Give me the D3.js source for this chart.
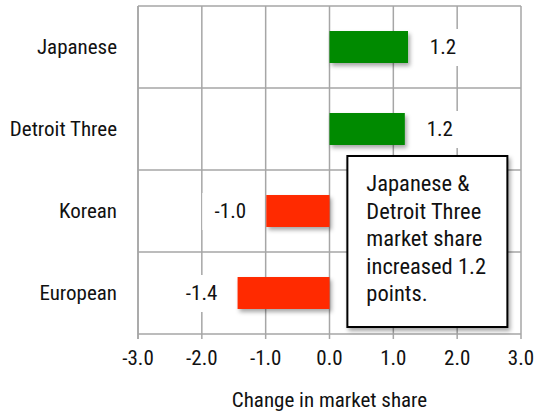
<!DOCTYPE html>
<html>
<head>
<meta charset="UTF-8">
<script src="https://d3js.org/d3.v7.min.js"></script>
<style>
  body { margin: 0; background: #fff; }
  svg { font-family: "Roboto Condensed", "Liberation Sans Narrow", sans-serif; }
  .grid line { stroke: #a6a6a6; stroke-width: 1.5px; }
</style>
</head>
<body>
<svg width="537" height="415"></svg>
<script>
// data
const categories = ["Japanese", "Detroit Three", "Korean", "European"];
const values = [1.23, 1.18, -0.99, -1.44];
const xTicks = [-3, -2, -1, 0, 1, 2, 3];
const noteLines = ["Japanese &", "Detroit Three", "market share", "increased 1.2", "points."];

const svg = d3.select("svg");
const margin = { top: 6, right: 16, bottom: 81, left: 138 };
const width = 537 - margin.left - margin.right;
const height = 415 - margin.top - margin.bottom;

const defs = svg.append("defs");
const f = defs.append("filter").attr("id", "shadow")
  .attr("x", "-20%").attr("y", "-20%").attr("width", "150%").attr("height", "160%");
f.append("feDropShadow").attr("dx", 2).attr("dy", 3).attr("stdDeviation", 2)
  .attr("flood-color", "#000").attr("flood-opacity", 0.35);

const g = svg.append("g").attr("transform", `translate(${margin.left},${margin.top})`);

const x = d3.scaleLinear().domain([-3, 3]).range([0, width]);
const y = d3.scaleBand().domain(categories).range([0, height]).paddingInner(0.61).paddingOuter(0.305);
const band = height / categories.length;

// plain hyphen for negatives, like the original
const fmt = d3.formatLocale({ decimal: ".", thousands: ",", grouping: [3], currency: ["", ""], minus: "-" }).format(".1f");

// grid
const grid = g.append("g").attr("class", "grid");
grid.selectAll(".v").data(xTicks).join("line")
  .attr("x1", d => x(d)).attr("x2", d => x(d))
  .attr("y1", 0).attr("y2", height + 5);
grid.selectAll(".h").data(d3.range(categories.length + 1)).join("line")
  .attr("x1", 0).attr("x2", width)
  .attr("y1", d => d * band).attr("y2", d => d * band);

// bars
g.selectAll(".bar").data(categories).join("rect")
  .attr("x", (d, i) => x(Math.min(0, values[i])))
  .attr("width", (d, i) => Math.abs(x(values[i]) - x(0)))
  .attr("y", d => y(d))
  .attr("height", y.bandwidth())
  .attr("fill", (d, i) => values[i] >= 0 ? "#008a00" : "#ff2a00")
  .attr("filter", "url(#shadow)");

// value labels with white backing
const lab = g.selectAll(".lab").data(categories).join("g")
  .attr("transform", (d, i) => {
    const v = values[i];
    const cx = v >= 0 ? x(v) + 35 : x(v) - 36;
    return `translate(${cx},${y(d) + y.bandwidth() / 2})`;
  });
lab.append("rect").attr("x", -28).attr("y", -18).attr("width", 56).attr("height", 37).attr("fill", "#fff");
lab.append("text").attr("text-anchor", "middle").attr("dy", "0.35em")
  .attr("font-size", 21).attr("fill", "#111")
  .text((d, i) => fmt(values[i]));

// category labels
g.selectAll(".cat").data(categories).join("text")
  .attr("x", -21).attr("y", d => y(d) + y.bandwidth() / 2)
  .attr("dy", "0.35em").attr("text-anchor", "end")
  .attr("font-size", 21).attr("fill", "#111").text(d => d);

// plot border on left
g.append("line").attr("x1", 0).attr("x2", 0).attr("y1", 0).attr("y2", height + 5)
  .attr("stroke", "#a6a6a6").attr("stroke-width", 1.5);

// x tick labels
g.selectAll(".tick-l").data(xTicks).join("text")
  .attr("x", d => x(d)).attr("y", height + 31)
  .attr("text-anchor", "middle").attr("font-size", 21).attr("fill", "#111")
  .text(d => fmt(d));

g.append("text").attr("x", x(0)).attr("y", height + 73)
  .attr("text-anchor", "middle").attr("font-size", 21).attr("fill", "#111")
  .text("Change in market share");

// annotation
const note = g.append("g").attr("transform", `translate(${x(0.28)},${150})`);
note.append("rect").attr("width", 160).attr("height", 171)
  .attr("fill", "#fff").attr("stroke", "#000").attr("stroke-width", 2)
  .attr("filter", "url(#shadow)");
note.selectAll("text").data(noteLines).join("text")
  .attr("x", 19).attr("y", (d, i) => 35 + i * 27.5)
  .attr("font-size", 22.5).attr("fill", "#111").text(d => d);
</script>
</body>
</html>
